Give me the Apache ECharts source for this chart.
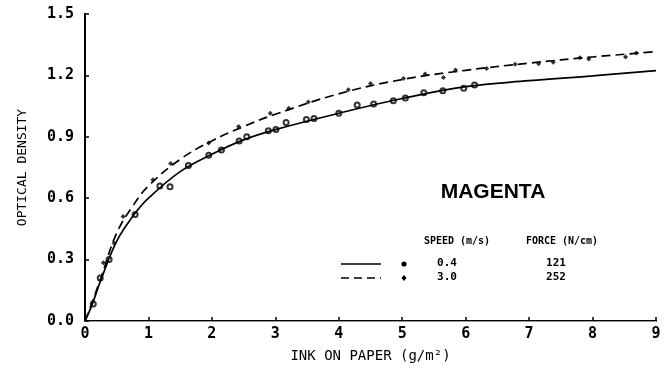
<!DOCTYPE html>
<html>
<head>
<meta charset="utf-8">
<script src="https://cdn.jsdelivr.net/npm/echarts@6/dist/echarts.min.js"></script>
<style>
  html, body { margin: 0; padding: 0; background: #fff; }
  #chart { width: 667px; height: 375px; }
</style>
</head>
<body>
<div id="chart"></div>
<script>
// Ink on paper (g/m²) vs. optical density, magenta ink, two press settings.

// Measured points, speed 0.4 m/s / force 121 N/cm
const lowSpeedX = [0.13, 0.24, 0.38, 0.79, 1.18, 1.34, 1.63, 1.95, 2.15, 2.43, 2.55, 2.89, 3.01, 3.17, 3.49, 3.61, 4.0, 4.29, 4.55, 4.86, 5.05, 5.34, 5.64, 5.97, 6.14];
const lowSpeedY = [0.083, 0.21, 0.30, 0.52, 0.66, 0.656, 0.76, 0.81, 0.835, 0.88, 0.90, 0.93, 0.936, 0.97, 0.985, 0.99, 1.015, 1.055, 1.06, 1.076, 1.09, 1.115, 1.125, 1.137, 1.153];

// Measured points, speed 3.0 m/s / force 252 N/cm
const highSpeedX = [0.29, 0.46, 0.6, 1.07, 1.35, 1.95, 2.42, 2.92, 3.21, 3.52, 4.15, 4.5, 5.02, 5.36, 5.65, 5.84, 6.33, 6.78, 7.15, 7.38, 7.8, 7.94, 8.52, 8.69];
const highSpeedY = [0.285, 0.38, 0.51, 0.69, 0.77, 0.87, 0.95, 1.015, 1.04, 1.07, 1.13, 1.16, 1.185, 1.207, 1.19, 1.226, 1.234, 1.255, 1.257, 1.264, 1.286, 1.28, 1.29, 1.31];

// Fitted curves through each set
const fitX = [0, 0.1, 0.25, 0.5, 0.75, 1, 1.5, 2, 2.5, 3, 4, 5, 6, 7, 8, 9];
const fitLowY = [0, 0.07, 0.2, 0.39, 0.51, 0.60, 0.73, 0.815, 0.885, 0.935, 1.015, 1.087, 1.145, 1.174, 1.198, 1.223];
const fitHighY = [0, 0.08, 0.21, 0.43, 0.56, 0.66, 0.79, 0.88, 0.95, 1.01, 1.11, 1.18, 1.225, 1.26, 1.29, 1.316];

// Axis ticks
const xTicks = [0, 1, 2, 3, 4, 5, 6, 7, 8, 9];
const yTicks = ['0.0', '0.3', '0.6', '0.9', '1.2', '1.5'];

// Legend table
const legendHeaders = ['SPEED (m/s)', 'FORCE (N/cm)'];
const speeds = ['0.4', '3.0'];
const forces = ['121', '252'];

const zip = (xs, ys) => xs.map((x, i) => [x, ys[i]]);

const plotterFont = '"DejaVu Sans Mono", monospace';
const ink = '#000';

const chart = echarts.init(document.getElementById('chart'), null, { renderer: 'canvas' });

// Title and legend table drawn as graphic elements
const legendRows = [263, 277];
const graphic = [];
function txt(x, y, s, font) {
  graphic.push({ type: 'text', x: x, y: y, style: { text: s, font: font, fill: ink, align: 'center', verticalAlign: 'middle' } });
}
txt(493, 192, 'MAGENTA', 'bold 21px "Liberation Sans", Arial, sans-serif');
txt(457, 241, legendHeaders[0], 'bold 10px ' + plotterFont);
txt(562, 241, legendHeaders[1], 'bold 10px ' + plotterFont);
speeds.forEach((s, i) => {
  txt(447, legendRows[i], s, 'bold 11px ' + plotterFont);
  txt(556, legendRows[i], forces[i], 'bold 11px ' + plotterFont);
});
graphic.push({ type: 'line', shape: { x1: 341, y1: legendRows[0] + 1, x2: 381, y2: legendRows[0] + 1 }, style: { stroke: ink, lineWidth: 1.6 } });
graphic.push({ type: 'line', shape: { x1: 341, y1: legendRows[1] + 1, x2: 381, y2: legendRows[1] + 1 }, style: { stroke: ink, lineWidth: 1.6, lineDash: [8, 5] } });
graphic.push({ type: 'circle', shape: { cx: 404, cy: legendRows[0] + 1, r: 2.6 }, style: { fill: ink } });
graphic.push({ type: 'polygon', shape: { points: [[404, legendRows[1] - 2], [406.5, legendRows[1] + 1], [404, legendRows[1] + 4], [401.5, legendRows[1] + 1]] }, style: { fill: ink } });

const option = {
  backgroundColor: '#fff',
  animation: false,
  grid: { left: 85, right: 11, top: 14, bottom: 54, containLabel: false },
  xAxis: [
    {
      type: 'value', min: 0, max: 9, interval: 1,
      name: 'INK ON PAPER (g/m²)', nameLocation: 'middle', nameGap: 28,
      nameTextStyle: { fontFamily: plotterFont, fontSize: 14, color: ink },
      axisLine: { lineStyle: { color: ink, width: 2 } },
      axisTick: { inside: true, length: 4, lineStyle: { color: ink, width: 1.5 } },
      axisLabel: { fontFamily: plotterFont, fontWeight: 'bold', fontSize: 15, color: ink, margin: 6,
        formatter: v => String(xTicks[Math.round(v)]) },
      splitLine: { show: false }
    },
    {
      type: 'value', min: 0, max: 9, position: 'top',
      axisLine: { lineStyle: { color: '#999', width: 1 } },
      axisTick: { show: false }, axisLabel: { show: false }, splitLine: { show: false }
    }
  ],
  yAxis: [
    {
      type: 'value', min: 0, max: 1.5, interval: 0.3,
      name: 'OPTICAL DENSITY', nameLocation: 'middle', nameGap: 56, nameRotate: 90,
      nameTextStyle: { fontFamily: plotterFont, fontSize: 13, color: ink },
      axisLine: { lineStyle: { color: ink, width: 2 } },
      axisTick: { inside: true, length: 4, lineStyle: { color: ink, width: 1.5 } },
      axisLabel: { fontFamily: plotterFont, fontWeight: 'bold', fontSize: 15, color: ink, margin: 11,
        formatter: v => yTicks[Math.round(v / 0.3)] },
      splitLine: { show: false }
    },
    {
      type: 'value', min: 0, max: 1.5, position: 'right',
      axisLine: { show: true, lineStyle: { color: ink, width: 2 } },
      axisTick: { show: false }, axisLabel: { show: false }, splitLine: { show: false }
    }
  ],
  series: [
    {
      type: 'line', data: zip(fitX, fitLowY), smooth: 0.4, showSymbol: false,
      lineStyle: { color: ink, width: 1.7 }, silent: true
    },
    {
      type: 'line', data: zip(fitX, fitHighY), smooth: 0.4, showSymbol: false,
      lineStyle: { color: ink, width: 1.7, type: [9, 5] }, silent: true
    },
    {
      type: 'scatter', data: zip(lowSpeedX, lowSpeedY), symbol: 'circle', symbolSize: 5,
      itemStyle: { color: '#fff', borderColor: ink, borderWidth: 2 }
    },
    {
      type: 'scatter', data: zip(highSpeedX, highSpeedY), symbol: 'diamond', symbolSize: 5,
      itemStyle: { color: ink }
    }
  ],
  graphic: graphic
};

chart.setOption(option);
</script>
</body>
</html>
